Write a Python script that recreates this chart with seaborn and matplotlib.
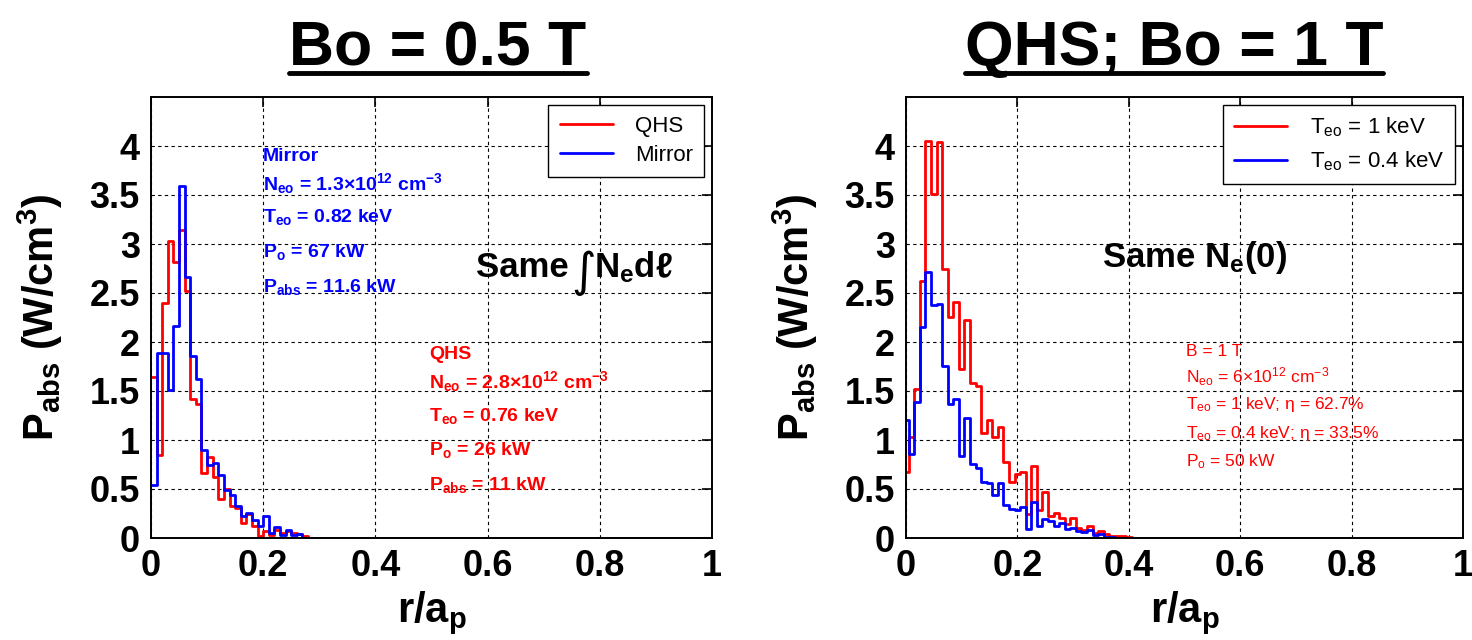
import matplotlib as mpl
import matplotlib.pyplot as plt
plt.switch_backend('Agg')
import seaborn as sns
import numpy as np
import pandas as pd
from matplotlib.lines import Line2D

sns.set_theme(style='white')
plt.rcParams['font.family'] = ['Liberation Sans', 'DejaVu Sans']
plt.rcParams['mathtext.fontset'] = 'custom'
plt.rcParams['mathtext.rm'] = 'Liberation Sans'
plt.rcParams['mathtext.bf'] = 'Liberation Sans:bold'
plt.rcParams['mathtext.it'] = 'Liberation Sans:italic'
plt.rcParams['mathtext.sf'] = 'Liberation Sans'
plt.rcParams['text.color'] = 'black'
plt.rcParams['axes.labelcolor'] = 'black'

# ---- data (bin width 0.01 in r/a_p) ----
n_bins = 101
r_left = np.round(np.arange(n_bins) * 0.01, 2)      # bin left edges
r_right = np.round(np.arange(n_bins) * 0.01, 2)     # bin centres

qhs_05 = [1.64, 0.85, 2.40, 3.03, 2.82, 3.14, 2.52, 1.42, 1.37, 0.66,
          0.83, 0.62, 0.40, 0.50, 0.33, 0.31, 0.15, 0.25, 0.12, 0.02,
          0.07, 0.03, 0.08, 0.05, 0.07, 0.05, 0.04, 0.02]
mirror_05 = [0.54, 1.89, 1.89, 1.51, 2.16, 3.59, 2.66, 1.86, 1.62, 0.90,
             0.74, 0.77, 0.64, 0.49, 0.44, 0.33, 0.22, 0.26, 0.18, 0.12,
             0.22, 0.05, 0.11, 0.03, 0.08, 0.03, 0.04]

te1_1T = [0.67, 1.03, 1.52, 2.62, 4.05, 3.51, 4.04, 2.75, 2.26, 2.41,
          1.72, 2.22, 1.58, 1.55, 1.07, 1.20, 1.03, 1.13, 0.78, 0.57,
          0.65, 0.67, 0.24, 0.73, 0.29, 0.47, 0.22, 0.26, 0.20, 0.14,
          0.20, 0.10, 0.08, 0.12, 0.05, 0.07, 0.04, 0.02, 0.02, 0.02, 0.01]
te04_1T = [1.20, 0.86, 1.39, 2.15, 2.71, 2.38, 2.39, 1.76, 1.37, 1.42,
           0.84, 1.22, 0.76, 0.71, 0.57, 0.56, 0.44, 0.56, 0.34, 0.30,
           0.29, 0.32, 0.09, 0.37, 0.12, 0.19, 0.17, 0.12, 0.15, 0.09,
           0.10, 0.07, 0.06, 0.08, 0.03, 0.04, 0.01, 0.01]

x_ticks = [0, 0.2, 0.4, 0.6, 0.8, 1]
y_ticks = [0, 0.5, 1, 1.5, 2, 2.5, 3, 3.5, 4]
x_ticklabels = ['0', '0.2', '0.4', '0.6', '0.8', '1']
y_ticklabels = ['0', '0.5', '1', '1.5', '2', '2.5', '3', '3.5', '4']


def pad(vals):
    return list(vals) + [0.0] * (n_bins - len(vals))


def series_frame(r, a, b, la, lb):
    return pd.concat([
        pd.DataFrame({'r': r, 'P': pad(a), 'case': la}),
        pd.DataFrame({'r': r, 'P': pad(b), 'case': lb}),
    ])


def style_axes(ax):
    ax.set_xlim(0, 1)
    ax.set_ylim(0, 4.5)
    ax.set_xticks(x_ticks)
    ax.set_yticks(y_ticks)
    ax.set_xticklabels(x_ticklabels, fontsize=26, fontweight='bold')
    ax.set_yticklabels(y_ticklabels, fontsize=26, fontweight='bold')
    ax.tick_params(direction='in', length=7, width=1.2, top=True, right=True,
                   colors='black', pad=8)
    ax.grid(True, color='black', linestyle=(0, (3, 3)), linewidth=0.8)
    for s in ax.spines.values():
        s.set_color('black')
        s.set_linewidth(1.4)
    ax.set_xlabel(r'r/a$_{\mathbf{p}}$', fontsize=30, fontweight='bold', labelpad=4)
    ax.set_ylabel(r'P$_{\mathbf{abs}}$ (W/cm$^{\mathbf{3}}$)', fontsize=30,
                  fontweight='bold', labelpad=18)


fig = plt.figure(figsize=(14.72, 6.4), dpi=100)
ax1 = fig.add_axes([151 / 1472, 102 / 640, 561 / 1472, 441 / 640])
ax2 = fig.add_axes([906 / 1472, 102 / 640, 557 / 1472, 441 / 640])

# left panel: Bo = 0.5 T
df1 = series_frame(r_left, qhs_05, mirror_05, 'QHS', 'Mirror')
sns.lineplot(data=df1, x='r', y='P', hue='case', palette={'QHS': 'red', 'Mirror': 'blue'},
             estimator=None, drawstyle='steps-post', linewidth=2, ax=ax1, legend=False)
style_axes(ax1)
h1 = [Line2D([], [], color='red', lw=2), Line2D([], [], color='blue', lw=2)]
leg1 = ax1.legend(h1, ['QHS', 'Mirror'], loc='upper right', fontsize=16,
                  frameon=True, fancybox=False, edgecolor='black', framealpha=1,
                  handlelength=2.4, handletextpad=1.0, borderpad=0.5,
                  borderaxespad=0.35, labelspacing=0.35)
leg1.get_frame().set_linewidth(1.0)

blue_lines = ['Mirror',
              r'N$_{\mathbf{eo}}$ = 1.3×10$^{\mathbf{12}}$ cm$^{\mathbf{-3}}$',
              r'T$_{\mathbf{eo}}$ = 0.82 keV',
              r'P$_{\mathbf{o}}$ = 67 kW',
              r'P$_{\mathbf{abs}}$ = 11.6 kW']
for txt, yy in zip(blue_lines, [3.89, 3.62, 3.28, 2.92, 2.56]):
    ax1.text(0.2, yy, txt, color='blue', fontsize=14, fontweight='bold', va='center', ha='left')

red_lines = ['QHS',
             r'N$_{\mathbf{eo}}$ = 2.8×10$^{\mathbf{12}}$ cm$^{\mathbf{-3}}$',
             r'T$_{\mathbf{eo}}$ = 0.76 keV',
             r'P$_{\mathbf{o}}$ = 26 kW',
             r'P$_{\mathbf{abs}}$ = 11 kW']
for txt, yy in zip(red_lines, [1.87, 1.60, 1.25, 0.90, 0.54]):
    ax1.text(0.496, yy, txt, color='red', fontsize=14, fontweight='bold', va='center', ha='left')

ax1.text(0.58, 2.76, 'Same', fontsize=25, fontweight='bold', va='center', ha='left',
         color='black')
ax1.text(0.772, 2.70, '∫', fontsize=34, fontweight='normal', va='center', ha='center',
         family=['DejaVu Sans'], color='black')
ax1.text(0.79, 2.76, r'N$_{\mathbf{e}}$dℓ', fontsize=25, fontweight='bold',
         va='center', ha='left', color='black')

# right panel: QHS, Bo = 1 T
df2 = series_frame(r_right, te1_1T, te04_1T, 'Te1', 'Te04')
sns.lineplot(data=df2, x='r', y='P', hue='case', palette={'Te1': 'red', 'Te04': 'blue'},
             estimator=None, drawstyle='steps-mid', linewidth=2, ax=ax2, legend=False)
style_axes(ax2)
h2 = [Line2D([], [], color='red', lw=2), Line2D([], [], color='blue', lw=2)]
leg2 = ax2.legend(h2, [r'T$_{\mathrm{eo}}$ = 1 keV', r'T$_{\mathrm{eo}}$ = 0.4 keV'],
                  loc='upper right', fontsize=16, frameon=True, fancybox=False,
                  edgecolor='black', framealpha=1, handlelength=2.4,
                  handletextpad=1.0, borderpad=0.5,
                  borderaxespad=0.35, labelspacing=0.45)
leg2.get_frame().set_linewidth(1.0)

ax2.text(0.352, 2.86, r'Same N$_{\mathbf{e}}$(0)', fontsize=25, fontweight='bold',
         va='center', ha='left', color='black')

red2_lines = ['B = 1 T',
              r'N$_{\mathrm{eo}}$ = 6×10$^{\mathrm{12}}$ cm$^{\mathrm{-3}}$',
              r'T$_{\mathrm{eo}}$ = 1 keV; η = 62.7%',
              r'T$_{\mathrm{eo}}$ = 0.4 keV; η = 33.5%',
              r'P$_{\mathrm{o}}$ = 50 kW']
for txt, yy in zip(red2_lines, [1.90, 1.65, 1.36, 1.07, 0.78]):
    ax2.text(0.503, yy, txt, color='red', fontsize=12.5, va='center', ha='left')

# titles with underline
titles = [('Bo = 0.5 T', 438 / 1472), ('QHS; Bo = 1 T', 1174 / 1472)]
tobjs = []
for t, xc in titles:
    tobjs.append(fig.text(xc, 1 - 65 / 640, t, fontsize=45, fontweight='bold',
                          ha='center', va='baseline', color='black'))
fig.canvas.draw()
inv = fig.transFigure.inverted()
for tt in tobjs:
    bb = tt.get_window_extent().transformed(inv)
    fig.add_artist(Line2D([bb.x0, bb.x1], [1 - 73 / 640] * 2, color='black',
                          lw=3.5, transform=fig.transFigure))

fig.savefig('out.png', dpi=100, facecolor='white')
